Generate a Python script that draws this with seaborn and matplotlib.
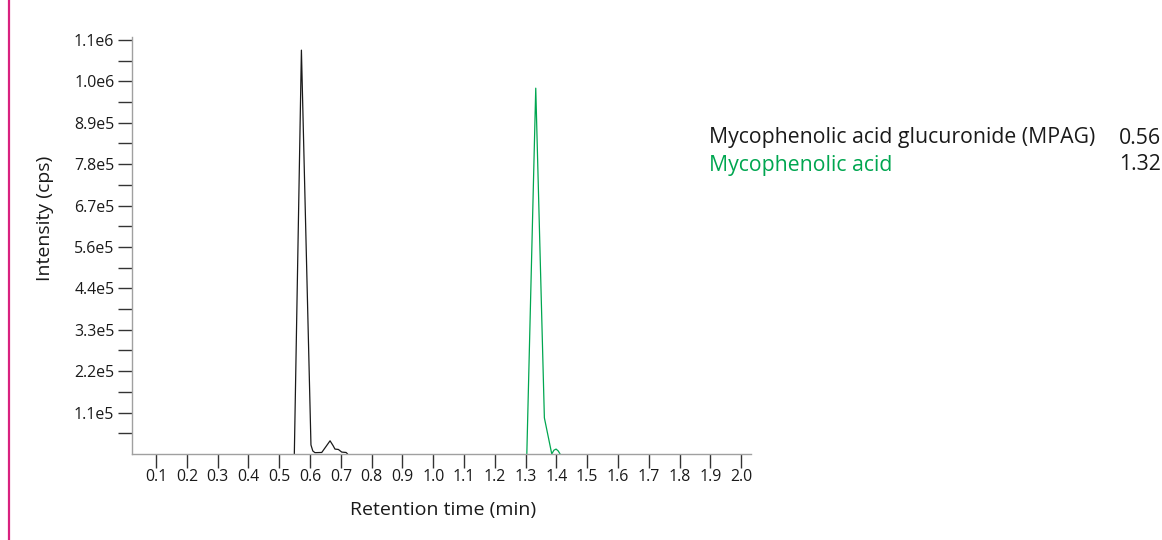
import numpy as np
import pandas as pd
import seaborn as sns
import matplotlib.pyplot as plt
from matplotlib.ticker import FixedLocator, FixedFormatter
from matplotlib.lines import Line2D

# Chromatogram traces (retention time in min, intensity in cps)
mpag_time = [0.549, 0.572, 0.603, 0.609, 0.616, 0.638, 0.652, 0.665, 0.675, 0.681, 0.692, 0.703, 0.717, 0.722]
mpag_int = [0, 1.073e6, 2.4e4, 8e3, 3.5e3, 4e3, 2.0e4, 3.5e4, 2.2e4, 1.3e4, 1.2e4, 5e3, 4e3, 0]

mpa_time = [1.304, 1.333, 1.361, 1.375, 1.385, 1.392, 1.399, 1.406, 1.412]
mpa_int = [0, 9.72e5, 9.6e4, 4.0e4, 0, 1.0e4, 1.3e4, 8e3, 0]

# Legend: compound names and retention times
compounds = ['Mycophenolic acid glucuronide (MPAG)', 'Mycophenolic acid']
rt_labels = ['0.56', '1.32']
colors = ['#1a1a1a', '#00a650']

# Axis ticks
x_ticks = [0.1, 0.2, 0.3, 0.4, 0.5, 0.6, 0.7, 0.8, 0.9, 1.0,
           1.1, 1.2, 1.3, 1.4, 1.5, 1.6, 1.7, 1.8, 1.9, 2.0]
y_ticks = [1.1e5, 2.2e5, 3.3e5, 4.4e5, 5.5e5, 6.6e5, 7.7e5, 8.8e5, 9.9e5, 1.1e6]
y_tick_labels = ['1.1e5', '2.2e5', '3.3e5', '4.4e5', '5.6e5',
                 '6.7e5', '7.8e5', '8.9e5', '1.0e6', '1.1e6']

df = pd.concat([
    pd.DataFrame({'time': mpag_time, 'intensity': mpag_int, 'compound': compounds[0]}),
    pd.DataFrame({'time': mpa_time, 'intensity': mpa_int, 'compound': compounds[1]}),
])

sns.set_style('white')
plt.rcParams['font.family'] = ['Open Sans', 'DejaVu Sans']

fig = plt.figure(figsize=(11.62, 5.4), dpi=100)
ax = fig.add_axes([0.1139, 0.1593, 0.5324, 0.7722])

sns.lineplot(data=df, x='time', y='intensity', hue='compound',
             palette=dict(zip(compounds, colors)), estimator=None, sort=False,
             linewidth=0.9, legend=False, ax=ax)

ax.set_xlim(0.023, 2.032)
ax.set_ylim(0, 1.108e6)

ax.xaxis.set_major_locator(FixedLocator(x_ticks))
ax.set_xticklabels([f'{t:.1f}' for t in x_ticks])
ax.yaxis.set_major_locator(FixedLocator(y_ticks))
ax.yaxis.set_major_formatter(FixedFormatter(y_tick_labels))
ax.yaxis.set_minor_locator(FixedLocator([y - 5.5e4 for y in y_ticks]))

for side in ['top', 'right']:
    ax.spines[side].set_visible(False)
for side in ['left', 'bottom']:
    ax.spines[side].set_color('#a0a0a0')
    ax.spines[side].set_linewidth(1.0)

ax.tick_params(axis='both', which='both', direction='out', length=10,
               width=1.0, color='#333333', labelsize=11.4, labelcolor='#1a1a1a',
               bottom=True, left=True)
ax.tick_params(axis='x', pad=1)
ax.tick_params(axis='y', pad=3)

ax.set_xlabel('Retention time (min)', fontsize=14, color='#1a1a1a')
ax.set_ylabel('Intensity (cps)', fontsize=14, color='#1a1a1a')
ax.xaxis.set_label_coords(0.502, -0.112)
ax.yaxis.set_label_coords(-0.127, 0.566)

# retention time legend on the right
for i, (name, rt, c) in enumerate(zip(compounds, rt_labels, colors)):
    y = 1 - (138 + 27 * i) / 540
    fig.text(709 / 1162, y, name, color=c, fontsize=15.3, va='center', ha='left')
    fig.text(1161 / 1162, y, rt, color='#1a1a1a', fontsize=15.3, va='center', ha='right')

# magenta page rule on the left
fig.add_artist(Line2D([8.5 / 1162, 8.5 / 1162], [0, 1], color='#d9217f', linewidth=1.6))

plt.savefig('out.png', dpi=100)
